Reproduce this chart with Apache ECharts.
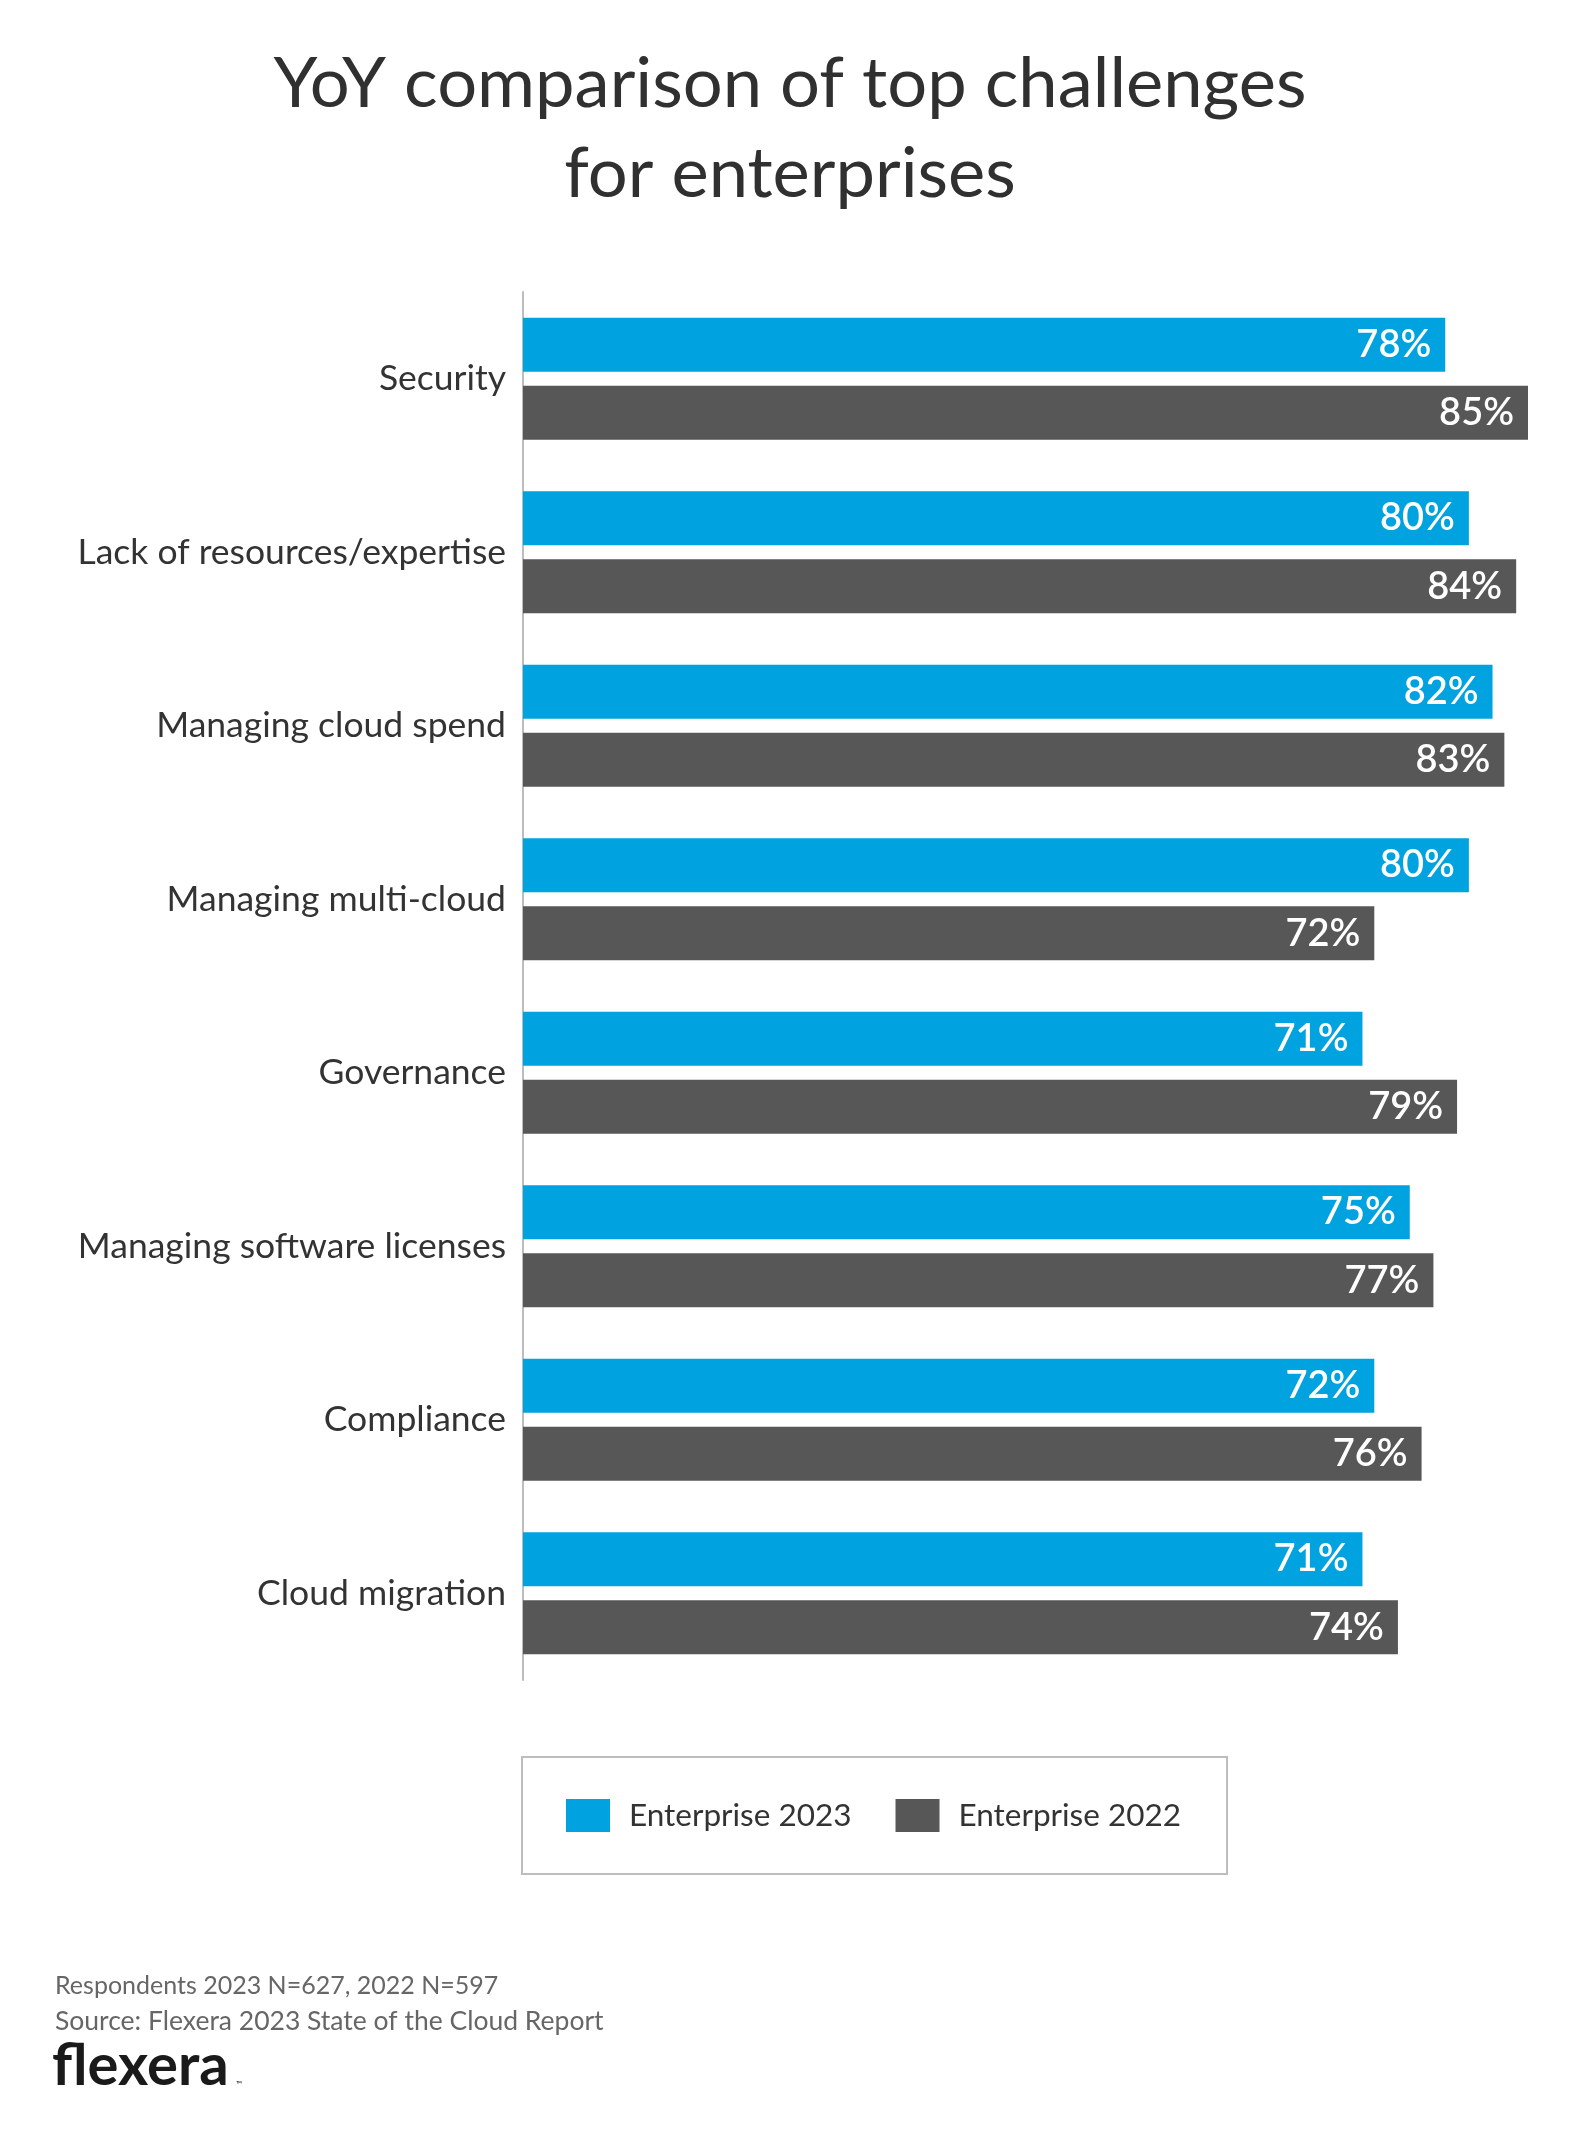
<!DOCTYPE html>
<html>
<head>
<meta charset="utf-8">
<style>
  html, body { margin: 0; padding: 0; background: #ffffff; }
  #chart { width: 1580px; height: 2143px; }
</style>
<script src="https://cdn.jsdelivr.net/npm/echarts@6/dist/echarts.min.js"></script>
</head>
<body>
<div id="chart"></div>
<script>
const categories = [
  'Security',
  'Lack of resources/expertise',
  'Managing cloud spend',
  'Managing multi-cloud',
  'Governance',
  'Managing software licenses',
  'Compliance',
  'Cloud migration'
];
const enterprise2023 = [78, 80, 82, 80, 71, 75, 72, 71];
const enterprise2022 = [85, 84, 83, 72, 79, 77, 76, 74];
const seriesNames = ['Enterprise 2023', 'Enterprise 2022'];
const titleText = 'YoY comparison of top challenges\nfor enterprises';
const footnotes = ['Respondents 2023 N=627, 2022 N=597', 'Source: Flexera 2023 State of the Cloud Report'];

const FONT = 'Lato, "Source Sans Pro", "Noto Sans", sans-serif';
const BLUE = '#00A2DF';
const GRAY = '#575757';

const chart = echarts.init(document.getElementById('chart'), null, { renderer: 'canvas' });

const labelCfg = {
  show: true,
  position: 'insideRight',
  distance: 14,
  color: '#ffffff',
  fontFamily: FONT,
  fontSize: 38,
  fontWeight: 600,
  formatter: p => p.value + '%'
};

chart.setOption({
  backgroundColor: '#ffffff',
  animation: false,
  title: {
    text: titleText,
    left: 'center',
    top: 34,
    textStyle: {
      fontFamily: FONT,
      fontSize: 70.5,
      fontWeight: 400,
      color: '#303030',
      lineHeight: 90
    }
  },
  grid: {
    left: 523,
    right: 52,
    top: 292,
    height: 1388,
    containLabel: false
  },
  xAxis: {
    type: 'value',
    min: 0,
    max: 85,
    show: false
  },
  yAxis: {
    type: 'category',
    data: categories,
    inverse: true,
    axisTick: { show: false },
    axisLine: { show: true, lineStyle: { color: '#bdbdbd', width: 2 } },
    axisLabel: {
      margin: 17,
      fontFamily: FONT,
      fontSize: 35.5,
      color: '#333333'
    }
  },
  legend: {
    data: seriesNames,
    left: 522,
    top: 1757,
    orient: 'horizontal',
    padding: [42, 46, 42, 44],
    borderColor: '#bdbdbd',
    borderWidth: 2,
    itemWidth: 44,
    itemHeight: 33,
    itemGap: 44,
    icon: 'rect',
    textStyle: {
      fontFamily: FONT,
      fontSize: 31.5,
      color: '#333333',
      padding: [0, 0, 0, 14]
    }
  },
  series: [
    {
      name: seriesNames[0],
      type: 'bar',
      data: enterprise2023,
      barWidth: 54,
      barGap: '26%',
      itemStyle: { color: BLUE },
      label: labelCfg
    },
    {
      name: seriesNames[1],
      type: 'bar',
      data: enterprise2022,
      barWidth: 54,
      barGap: '26%',
      itemStyle: { color: GRAY },
      label: labelCfg
    }
  ],
  graphic: [
    {
      type: 'text',
      left: 55,
      top: 1973,
      style: {
        text: footnotes[0],
        fontFamily: FONT,
        fontSize: 25,
        fill: '#666666'
      }
    },
    {
      type: 'text',
      left: 55,
      top: 2008,
      style: {
        text: footnotes[1],
        fontFamily: FONT,
        fontSize: 26.5,
        fill: '#666666'
      }
    },
    {
      type: 'text',
      left: 52,
      top: 2037,
      style: {
        text: 'flexera',
        fontFamily: FONT,
        fontSize: 58,
        fontWeight: 'bold',
        fill: '#1a1a1a',
        letterSpacing: 2.5
      }
    },
    {
      type: 'text',
      left: 236,
      top: 2080,
      style: {
        text: '™',
        fontFamily: FONT,
        fontSize: 8,
        fill: '#1a1a1a'
      }
    }
  ]
});
</script>
</body>
</html>
